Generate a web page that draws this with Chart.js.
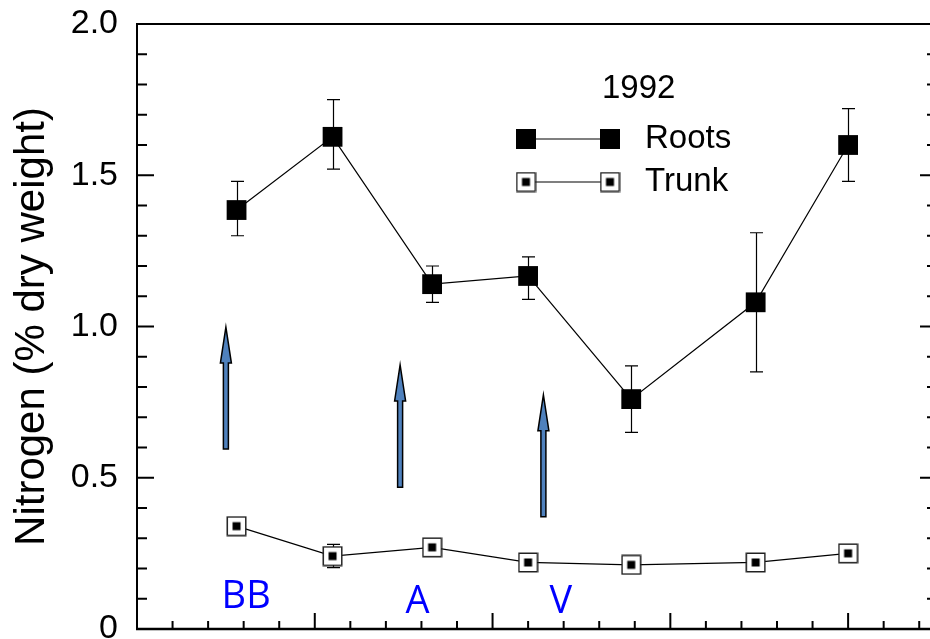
<!DOCTYPE html>
<html>
<head>
<meta charset="utf-8">
<script src="https://cdn.jsdelivr.net/npm/chart.js@4.4.1/dist/chart.umd.min.js"></script>
<style>
  html, body { margin: 0; padding: 0; background: #fff; overflow: hidden; }
  #wrap { width: 930px; height: 639px; overflow: hidden; }
</style>
</head>
<body>
<div id="wrap"><canvas id="chart" width="960" height="660"></canvas></div>
<script>
// sampling days and nitrogen values (% dry weight), 1992
const days = [28, 55, 83, 110, 139, 174, 200];
const rootsN = [1.385, 1.627, 1.14, 1.167, 0.76, 1.08, 1.60];
const rootsLow = [1.30, 1.52, 1.08, 1.09, 0.65, 0.85, 1.48];
const rootsHigh = [1.48, 1.75, 1.20, 1.23, 0.87, 1.31, 1.72];
const trunkN = [0.34, 0.241, 0.27, 0.22, 0.212, 0.22, 0.25];
const trunkLow = [null, 0.203, null, null, null, null, null];
const trunkHigh = [null, 0.28, null, null, null, null, null];
const yTicks = [0, 0.5, 1.0, 1.5, 2.0];

// phenology markers (BB, A, V) and arrows
const stageLabels = ['BB', 'A', 'V'];
const stageX = [30.7, 78.9, 119.2];
const stageY = [0.068, 0.052, 0.053];
const arrowX = [25, 74, 114.3];
const arrowFrom = [0.595, 0.469, 0.371];
const arrowTo = [0.998, 0.873, 0.774];

const FONT = "'Liberation Sans', Arial, Helvetica, sans-serif";
Chart.defaults.font.family = FONT;
Chart.defaults.color = '#000';

// open square with a black dot (trunk marker)
function makeTrunkMarker() {
  const c = document.createElement('canvas');
  c.width = 21; c.height = 21;
  const g = c.getContext('2d');
  g.fillStyle = '#fff';
  g.fillRect(1, 1, 19, 19);
  g.strokeStyle = '#222';
  g.lineWidth = 1.5;
  g.strokeRect(1.25, 1.25, 18.5, 18.5);
  g.fillStyle = '#000';
  g.fillRect(6.5, 6.5, 8, 8);
  return c;
}
const trunkMarker = makeTrunkMarker();

const toPts = (xs, ys) => xs.map((x, i) => ({ x: x, y: ys[i] }));

// error bars, drawn under the markers
const errorBars = {
  id: 'errorBars',
  beforeDatasetsDraw(chart) {
    const { ctx, scales: { x, y } } = chart;
    const sets = [[rootsLow, rootsHigh], [trunkLow, trunkHigh]];
    ctx.save();
    ctx.strokeStyle = '#000';
    ctx.lineWidth = 1.2;
    sets.forEach(([lo, hi]) => {
      days.forEach((d, i) => {
        if (lo[i] == null) return;
        const px = Math.round(x.getPixelForValue(d)) + 0.5;
        const y1 = y.getPixelForValue(lo[i]);
        const y2 = y.getPixelForValue(hi[i]);
        ctx.beginPath();
        ctx.moveTo(px, y1); ctx.lineTo(px, y2);
        ctx.moveTo(px - 6.5, y1); ctx.lineTo(px + 6.5, y1);
        ctx.moveTo(px - 6.5, y2); ctx.lineTo(px + 6.5, y2);
        ctx.stroke();
      });
    });
    ctx.restore();
  }
};

// axes frame with inward ticks
const frame = {
  id: 'frame',
  afterDraw(chart) {
    const { ctx, chartArea: a, scales: { x, y } } = chart;
    ctx.save();
    ctx.strokeStyle = '#000';
    ctx.lineWidth = 2;
    ctx.beginPath();
    ctx.moveTo(a.left, a.top); ctx.lineTo(a.right, a.top);
    ctx.moveTo(a.left, a.top - 1); ctx.lineTo(a.left, a.bottom + 1);
    ctx.moveTo(a.right, a.top - 1); ctx.lineTo(a.right, a.bottom);
    ctx.stroke();
    ctx.lineWidth = 2.5;
    ctx.beginPath();
    ctx.moveTo(a.left - 1, a.bottom); ctx.lineTo(a.right, a.bottom);
    ctx.stroke();
    ctx.lineWidth = 2;
    ctx.beginPath();
    for (let k = 0; k <= 20; k++) {
      const py = y.getPixelForValue(k / 10);
      const len = k % 5 === 0 ? 17 : 10;
      ctx.moveTo(a.left, py); ctx.lineTo(a.left + len, py);
      ctx.moveTo(a.right, py); ctx.lineTo(a.right - len, py);
    }
    for (let d = 10; d <= 220; d += 10) {
      const px = x.getPixelForValue(d);
      const len = d % 50 === 0 ? 16 : 8;
      ctx.moveTo(px, a.bottom); ctx.lineTo(px, a.bottom - len);
    }
    ctx.stroke();
    ctx.restore();
  }
};

// arrows and stage labels
const stages = {
  id: 'stages',
  afterDatasetsDraw(chart) {
    const { ctx, scales: { x, y } } = chart;
    ctx.save();
    arrowX.forEach((ax, i) => {
      const px = x.getPixelForValue(ax);
      const yb = y.getPixelForValue(arrowFrom[i]);
      const yt = y.getPixelForValue(arrowTo[i]);
      const hb = yt + 36;
      ctx.beginPath();
      ctx.moveTo(px - 2.5, yb);
      ctx.lineTo(px - 2.5, hb);
      ctx.lineTo(px - 5.5, hb);
      ctx.lineTo(px, yt);
      ctx.lineTo(px + 5.5, hb);
      ctx.lineTo(px + 2.5, hb);
      ctx.lineTo(px + 2.5, yb);
      ctx.closePath();
      ctx.fillStyle = '#4f81bd';
      ctx.fill();
      ctx.strokeStyle = '#000';
      ctx.lineWidth = 1.5;
      ctx.stroke();
    });
    ctx.fillStyle = '#0000ff';
    ctx.font = "38px 'Open Sans', 'Noto Sans', sans-serif";
    ctx.textAlign = 'center';
    ctx.textBaseline = 'alphabetic';
    stageLabels.forEach((t, i) => {
      ctx.fillText(t, x.getPixelForValue(stageX[i]), y.getPixelForValue(stageY[i]));
    });
    ctx.restore();
  }
};

// legend box: year, then line-with-markers for each series
const legendBox = {
  id: 'legendBox',
  afterDraw(chart) {
    const { ctx } = chart;
    ctx.save();
    ctx.fillStyle = '#000';
    ctx.font = '33px ' + FONT;
    ctx.textAlign = 'left';
    ctx.textBaseline = 'alphabetic';
    ctx.fillText('1992', 602, 98);
    const rows = [
      { label: 'Roots', y: 139, base: 148, marker: 'rect' },
      { label: 'Trunk', y: 182, base: 191, marker: trunkMarker }
    ];
    rows.forEach(r => {
      ctx.strokeStyle = '#000';
      ctx.lineWidth = 1.2;
      ctx.beginPath();
      ctx.moveTo(526, r.y); ctx.lineTo(610, r.y);
      ctx.stroke();
      [526, 610].forEach(cx => {
        if (r.marker === 'rect') {
          ctx.fillStyle = '#000';
          ctx.fillRect(cx - 10, r.y - 10, 20, 20);
        } else {
          ctx.drawImage(r.marker, cx - 10.5, r.y - 10.5);
        }
      });
      ctx.fillStyle = '#000';
      ctx.fillText(r.label, 645, r.base);
    });
    ctx.restore();
  }
};

new Chart(document.getElementById('chart'), {
  type: 'line',
  data: {
    datasets: [
      {
        label: 'Roots',
        data: toPts(days, rootsN),
        borderColor: '#000',
        borderWidth: 1.2,
        pointStyle: 'rect',
        pointRadius: 14,
        pointBackgroundColor: '#000',
        pointBorderWidth: 0,
        tension: 0
      },
      {
        label: 'Trunk',
        data: toPts(days, trunkN),
        borderColor: '#000',
        borderWidth: 1.2,
        pointStyle: trunkMarker,
        pointRadius: 10,
        tension: 0
      }
    ]
  },
  options: {
    responsive: false,
    animation: false,
    devicePixelRatio: 1,
    layout: { padding: { top: 24, right: 23, bottom: 31, left: 0 } },
    plugins: {
      legend: { display: false },
      tooltip: { enabled: false }
    },
    scales: {
      x: {
        type: 'linear',
        min: 0,
        max: 225,
        display: false
      },
      y: {
        min: 0,
        max: 2.0,
        afterBuildTicks: s => { s.ticks = yTicks.map(v => ({ value: v })); },
        afterFit: s => { s.width = 137; s.paddingTop = 0; s.paddingBottom = 0; },
        grid: { display: false, drawTicks: false },
        border: { display: false },
        ticks: {
          padding: 19,
          font: { size: 34 },
          color: '#000',
          callback: v => v === 0 ? '0' : v.toFixed(1)
        },
        title: {
          display: true,
          text: 'Nitrogen (% dry weight)',
          font: { size: 42, lineHeight: 1.2 },
          color: '#000',
          padding: { top: 7, bottom: 0 }
        }
      }
    }
  },
  plugins: [errorBars, stages, frame, legendBox]
});
</script>
</body>
</html>
